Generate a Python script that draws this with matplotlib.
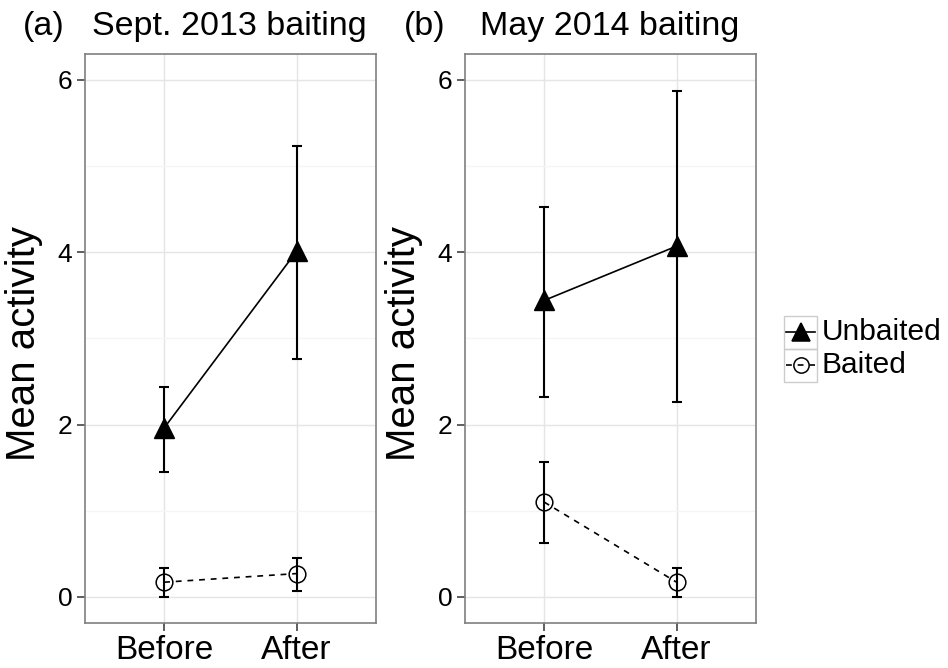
import numpy as np
import matplotlib
matplotlib.use("Agg")
import matplotlib.pyplot as plt
from matplotlib.lines import Line2D
from matplotlib.patches import Rectangle

plt.rcParams['font.family'] = ['Liberation Sans', 'DejaVu Sans']

# Data
periods = ["Before", "After"]
panel_tags = ["(a)", "(b)"]
panel_titles = ["Sept. 2013 baiting", "May 2014 baiting"]

unbaited_mean = [[1.96, 4.01], [3.44, 4.07]]
unbaited_lo = [[1.45, 2.76], [2.32, 2.26]]
unbaited_hi = [[2.44, 5.23], [4.52, 5.87]]

baited_mean = [[0.17, 0.27], [1.10, 0.17]]
baited_lo = [[0.00, 0.07], [0.63, 0.00]]
baited_hi = [[0.33, 0.45], [1.57, 0.33]]

y_ticks = [0, 2, 4, 6]
series_names = ["Unbaited", "Baited"]

W, H = 948, 668
fig = plt.figure(figsize=(W / 100, H / 100), dpi=100)

border = "#7F7F7F"
grid_major = "#E5E5E5"
grid_minor = "#F5F5F5"


def draw_panel(ax, i):
    x = np.arange(1, len(periods) + 1)
    um = np.array(unbaited_mean[i])
    bm = np.array(baited_mean[i])
    uerr = [um - np.array(unbaited_lo[i]), np.array(unbaited_hi[i]) - um]
    berr = [bm - np.array(baited_lo[i]), np.array(baited_hi[i]) - bm]

    ax.plot(x, um, color="black", lw=1.2, zorder=3)
    ax.plot(x, bm, color="black", lw=1.2, ls=(0, (3.5, 3.5)), zorder=3)
    ax.errorbar(x, um, yerr=uerr, fmt="none", ecolor="black", elinewidth=1.5,
                capsize=3.5, capthick=1.5, zorder=4)
    ax.errorbar(x, bm, yerr=berr, fmt="none", ecolor="black", elinewidth=1.5,
                capsize=3.5, capthick=1.5, zorder=4)
    ax.plot(x, um, ls="none", marker="^", ms=15, color="black", zorder=5)
    ax.plot(x, bm, ls="none", marker="o", ms=12, mfc="none", mec="black",
            mew=1.1, zorder=5)

    ax.set_xlim(0.4, 2.6)
    ax.set_ylim(-0.3, 6.3)
    ax.set_xticks(x)
    ax.set_xticklabels(periods, fontsize=24)
    ax.set_yticks(y_ticks)
    ax.set_yticklabels([str(t) for t in y_ticks], fontsize=19)
    ax.set_yticks([1, 3, 5], minor=True)
    ax.tick_params(axis="both", which="major", length=6, width=1.1,
                   color="#333333", labelcolor="black", pad=3)
    ax.tick_params(axis="y", which="minor", length=0)
    ax.grid(True, which="major", color=grid_major, lw=1.0, zorder=0)
    ax.grid(True, which="minor", axis="y", color=grid_minor, lw=1.0, zorder=0)
    ax.set_axisbelow(True)
    for s in ax.spines.values():
        s.set_color(border)
        s.set_linewidth(1.2)
    ax.set_ylabel("Mean activity", fontsize=29)
    ax.yaxis.set_label_coords(-0.143, 0.49)


lefts = [84.7, 464.7]
tag_x = [23, 404]
title_x = [92, 480]
for i in range(2):
    ax = fig.add_axes([lefts[i] / W, 1 - 622.7 / H, 291.3 / W, (622.7 - 54) / H])
    draw_panel(ax, i)
    fig.text(tag_x[i] / W, 1 - 35 / H, panel_tags[i], fontsize=24.5,
             ha="left", va="baseline")
    fig.text(title_x[i] / W, 1 - 35 / H, panel_titles[i], fontsize=24.5,
             ha="left", va="baseline")

# legend, ggplot-style keys with grey borders
key = 33
key_x = 784
key_centres = [332, 365]
styles = [dict(ls="-", marker="^", ms=13, color="black", mfc="black"),
          dict(ls=(0, (3.5, 3.5)), marker="o", ms=11, color="black", mfc="none")]
for name, cy, st in zip(series_names, key_centres, styles):
    fig.add_artist(Rectangle((key_x / W, 1 - (cy + key / 2) / H), key / W, key / H,
                             transform=fig.transFigure, fill=False,
                             edgecolor="#CCCCCC", lw=1.0))
    fig.add_artist(Line2D([(key_x + 2) / W, (key_x + key / 2) / W, (key_x + key - 2) / W],
                          [1 - cy / H] * 3, transform=fig.transFigure,
                          lw=1.2, mec="black", mew=1.1, markevery=[1], **st))
    fig.text((key_x + key + 5) / W, 1 - cy / H, name, fontsize=21.5,
             ha="left", va="center")

fig.savefig("out.png", dpi=100)
